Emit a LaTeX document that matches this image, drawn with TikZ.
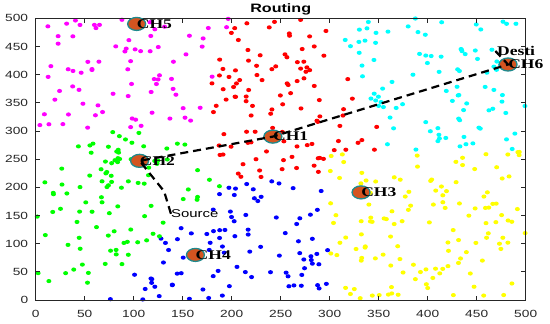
\documentclass[tikz,border=0pt]{standalone}
\usepackage{fontspec}
\setmainfont{Liberation Serif}
\newfontfamily\hv{Liberation Sans}
\definecolor{axisgray}{HTML}{262626}
\definecolor{chfill}{HTML}{D45420}
\definecolor{chedge}{HTML}{1F8A8E}
\definecolor{cmag}{rgb}{1,0,1}
\definecolor{cred}{rgb}{1,0,0}
\definecolor{ccyan}{rgb}{0,1,1}
\definecolor{cgreen}{rgb}{0,1,0}
\definecolor{cblue}{rgb}{0,0,1}
\definecolor{cyellow}{rgb}{1,1,0}
\tikzset{
  axisline/.style={draw=axisgray, line width=0.8pt},
  tickmark/.style={draw=axisgray, line width=0.7pt},
  ticklabel/.style={font=\hv\fontsize{10.4}{11}\selectfont, text=axisgray, inner sep=0pt, xscale=1.32},
  titlelabel/.style={font=\hv\bfseries\fontsize{12.2}{13}\selectfont, inner sep=0pt, xscale=1.32},
  chmark/.style={fill=chfill, draw=chedge, line width=1.3pt},
  chlabel/.style={font=\bfseries\fontsize{13.3}{14}\selectfont, anchor=west, inner sep=0pt, xscale=1.32},
  srclabel/.style={font=\hv\fontsize{11.3}{12}\selectfont, anchor=west, inner sep=0pt, xscale=1.32},
  routeline/.style={draw=black, line width=2.2pt, dash pattern=on 8pt off 5pt},
}
\begin{document}
\begin{tikzpicture}[x=1pt,y=-1pt]
\useasboundingbox[fill=white] (0,0) rectangle (550,324);
\node[titlelabel] (title) at (280.7,9.5) {Routing};
\begin{scope}[shift={(35.7pt,-300pt)}, x=0.98pt, y=0.5634pt]
  % scattered sensor nodes
  \pgfmathsetseed{2024}
  \foreach \i in {1,...,600}{
    \pgfmathsetmacro{\px}{rnd*500}
    \pgfmathsetmacro{\py}{rnd*500}
    \pgfmathtruncatemacro{\cl}{(\py>=298) ? ((\px < 165+(\py-300)*0.175) ? 1 : ((\px > 360-(\py-270)*0.24) ? 3 : 2)) : ((\py>265 && \px > 360-(\py-270)*0.24) ? 3 : ((\px>=300 && \py<=265) ? 6 : ((\px < ((\py<=215) ? 45+0.72*\py : 200-(\py-215)*0.75)) ? 4 : ((\py<212) ? 5 : 2))))}
    \ifcase\cl\or\def\dc{cmag}\or\def\dc{cred}\or\def\dc{ccyan}\or\def\dc{cgreen}\or\def\dc{cblue}\or\def\dc{cyellow}\fi
    \fill[\dc] (\px,\py) ellipse [x radius=2.5pt, y radius=2.1pt];
  }
  % axes box and ticks
  \draw[axisline] (0,0) rectangle (500,500);
  \foreach \v in {0,50,...,500}{
    \draw[tickmark] (\v,0) -- ++(0pt,4.5pt);
    \draw[tickmark] (\v,500) -- ++(0pt,-4.5pt);
    \draw[tickmark] (0,\v) -- ++(4.5pt,0pt);
    \draw[tickmark] (500,\v) -- ++(-4.5pt,0pt);
    \node[ticklabel, anchor=center] (xl\v) at ([yshift=-14pt]\v,0) {\v};
    \node[ticklabel, anchor=east] (yl\v) at ([xshift=-7.3pt]0,\v) {\v};
  }
  % cluster heads
  \coordinate (ch5) at (103,490);
  \coordinate (ch1) at (242,290);
  \coordinate (ch2) at (106,247);
  \coordinate (ch3) at (332,191);
  \coordinate (ch4) at (163,80);
  \coordinate (ch6) at (482,418);
  \coordinate (src) at (138,153);
  \coordinate (bend) at (131,193);
  \coordinate (dst) at (469,442);
  \foreach \c in {ch5,ch1,ch2,ch3,ch4,ch6}{
    \path[chmark] (\c) ellipse [x radius=9pt, y radius=6.5pt];
  }
  % route
  \draw[routeline] (src) -- (bend) -- (ch2) -- (ch1) -- (ch6) -- (dst);
  % labels
  \node[chlabel] (l5) at (ch5) {CH5};
  \node[chlabel] (l1) at (ch1) {CH1};
  \node[chlabel] (l2) at (ch2) {CH2};
  \node[chlabel] (l3) at (ch3) {CH3};
  \node[chlabel] (l4) at (ch4) {CH4};
  \node[chlabel] (l6) at (ch6) {CH6};
  \node[srclabel] (ls) at (src) {Source};
  \node[chlabel] (ld) at ([xshift=1.5pt]dst) {Desti};
\end{scope}
\end{tikzpicture}
\end{document}
